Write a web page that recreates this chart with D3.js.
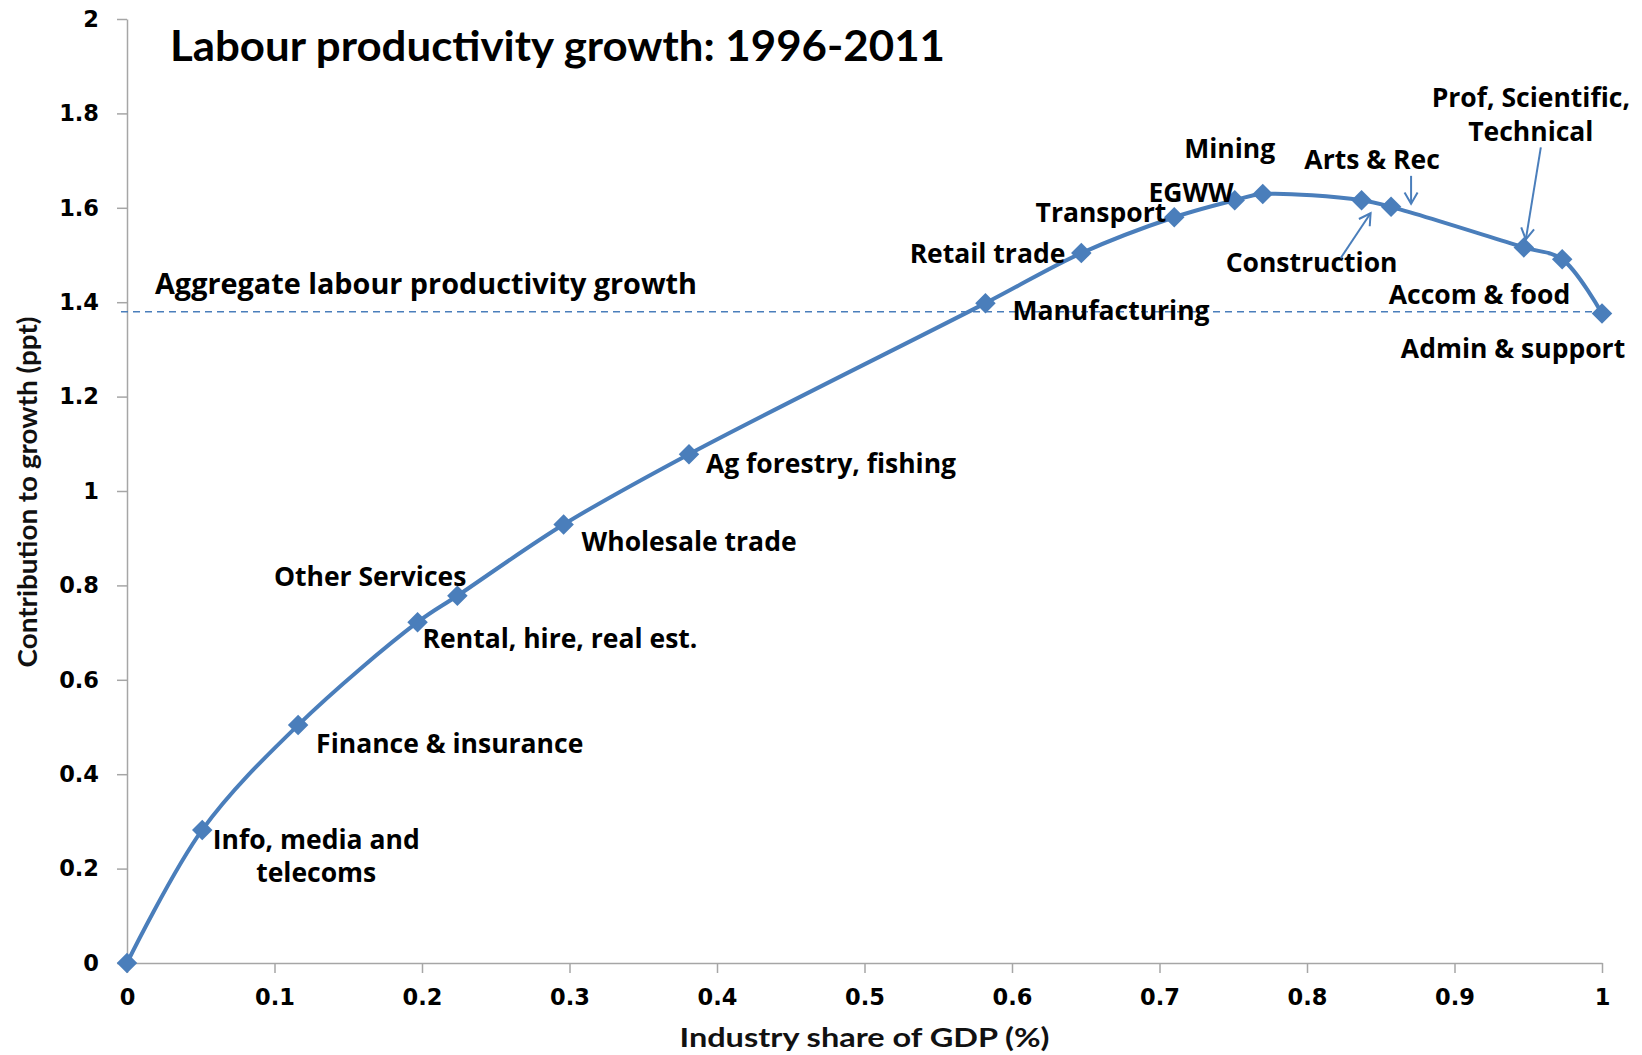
<!DOCTYPE html>
<html><head><meta charset="utf-8">
<script src="https://cdn.jsdelivr.net/npm/d3@7"></script>
<style>html,body{margin:0;padding:0;background:#fff;} svg{display:block}</style>
</head><body><svg id="chart" width="1642" height="1055"></svg>
<script>
// ---------- data ----------
const industries = ["", "Info, media and|telecoms", "Finance & insurance", "Rental, hire, real est.", "Other Services",
  "Wholesale trade", "Ag forestry, fishing", "Manufacturing", "Retail trade", "Transport", "EGWW", "Mining",
  "Construction", "Arts & Rec", "Prof, Scientific,|Technical", "Accom & food", "Admin & support"];
const share   = [0, 0.051, 0.116, 0.197, 0.224, 0.296, 0.381, 0.582, 0.647, 0.710, 0.751, 0.770, 0.837, 0.857, 0.947, 0.973, 1.0];
const contrib = [0, 0.282, 0.504, 0.722, 0.778, 0.929, 1.078, 1.398, 1.504, 1.580, 1.616, 1.629, 1.616, 1.602, 1.516, 1.491, 1.376];
const aggregateGrowth = 1.38;
const xTicks = [0, 0.1, 0.2, 0.3, 0.4, 0.5, 0.6, 0.7, 0.8, 0.9, 1];
const xTickLabels = ["0", "0.1", "0.2", "0.3", "0.4", "0.5", "0.6", "0.7", "0.8", "0.9", "1"];
const yTicks = [0, 0.2, 0.4, 0.6, 0.8, 1, 1.2, 1.4, 1.6, 1.8, 2];
const yTickLabels = ["0", "0.2", "0.4", "0.6", "0.8", "1", "1.2", "1.4", "1.6", "1.8", "2"];
const titleText = "Labour productivity growth: 1996-2011";
const xTitle = "Industry share of GDP (%)";
const yTitle = "Contribution to growth (ppt)";
const aggregateLabel = "Aggregate labour productivity growth";

// ---------- layout (label offsets in px, relative to each point) ----------
const labelLayout = [
  null,
  {dx: 114, dy: 9, anchor: "middle", lh: 33},
  {dx: 18, dy: 18, anchor: "start"},
  {dx: 5, dy: 16, anchor: "start"},
  {dx: 9, dy: -20, anchor: "end"},
  {dx: 18, dy: 16, anchor: "start"},
  {dx: 17, dy: 9, anchor: "start"},
  {dx: 27, dy: 7, anchor: "start"},
  {dx: -16, dy: 0, anchor: "end"},
  {dx: -8, dy: -5, anchor: "end"},
  {dx: -1, dy: -8, anchor: "end"},
  {dx: -33, dy: -46, anchor: "middle"},
  {dx: -50, dy: 62, anchor: "middle"},
  {dx: -19, dy: -48, anchor: "middle"},
  {dx: 7, dy: -150, anchor: "middle", lh: 34},
  {dx: 8, dy: 35, anchor: "end"},
  {dx: -89, dy: 34, anchor: "middle"}
];
// arrows: index of point, tail offset and tip offset (px)
const arrows = [
  {i: 12, tail: [-21, 58], tip: [9, 13]},
  {i: 13, tail: [20, -31], tip: [20, -3]},
  {i: 14, tail: [17, -100], tip: [2, -8]}
];

const blue = "#4a7ebb";
const axisGrey = "#a6a6a6";
const margin = {left: 127, right: 40, top: 19, bottom: 92};
const W = 1642, H = 1055;

const svg = d3.select("#chart");
const x = d3.scaleLinear().domain([0, 1]).range([margin.left, W - margin.right]);
const y = d3.scaleLinear().domain([0, 2]).range([H - margin.bottom, margin.top]);

// axes
const gy = svg.append("g").attr("transform", `translate(${x(0)},0)`)
  .call(d3.axisLeft(y).tickValues(yTicks).tickFormat((d, i) => yTickLabels[i]).tickSize(10).tickSizeOuter(0).tickPadding(18));
const gx = svg.append("g").attr("transform", `translate(0,${y(0)})`)
  .call(d3.axisBottom(x).tickValues(xTicks).tickFormat((d, i) => xTickLabels[i]).tickSize(10).tickSizeOuter(0).tickPadding(16));
[gx, gy].forEach(g => {
  g.selectAll("path.domain, line").attr("stroke", axisGrey).attr("stroke-width", 1.5);
  g.selectAll("text").attr("font-family", "DejaVu Sans").attr("font-weight", "bold")
    .attr("font-size", 22.5).attr("fill", "#000");
});

// aggregate dashed line
svg.append("line")
  .attr("x1", x(0) - 6).attr("x2", x(1))
  .attr("y1", y(aggregateGrowth)).attr("y2", y(aggregateGrowth))
  .attr("stroke", blue).attr("stroke-width", 1.5).attr("stroke-dasharray", "7,5");

// data line
const pts = share.map((s, i) => [s, contrib[i]]);
const line = d3.line().x(d => x(d[0])).y(d => y(d[1])).curve(d3.curveCatmullRom.alpha(0.5));
svg.append("path").datum(pts).attr("d", line)
  .attr("fill", "none").attr("stroke", blue).attr("stroke-width", 4);

// markers (diamonds)
const diamond = d3.symbol().type(d3.symbolSquare).size(210);
svg.append("g").selectAll("path").data(pts).join("path")
  .attr("d", diamond)
  .attr("transform", d => `translate(${x(d[0])},${y(d[1])}) rotate(45)`)
  .attr("fill", blue);

// labels
const lbl = svg.append("g").attr("font-family", "'Open Sans'").attr("font-weight", "bold")
  .attr("font-size", 26.5).attr("fill", "#000");
industries.forEach((name, i) => {
  const L = labelLayout[i];
  if (!L || !name) return;
  const px = x(share[i]) + L.dx, py = y(contrib[i]) + L.dy;
  const lines = name.split("|");
  const t = lbl.append("text").attr("text-anchor", L.anchor).attr("dominant-baseline", "central");
  lines.forEach((ln, k) => {
    t.append("tspan").attr("x", px).attr("y", py + k * (L.lh || 0)).text(ln);
  });
});

// arrows
arrows.forEach(a => {
  const bx = x(share[a.i]), by = y(contrib[a.i]);
  const x1 = bx + a.tail[0], y1 = by + a.tail[1], x2 = bx + a.tip[0], y2 = by + a.tip[1];
  const ang = Math.atan2(y2 - y1, x2 - x1);
  const len = 13, spread = Math.PI / 6;
  const g = svg.append("g").attr("stroke", blue).attr("stroke-width", 2).attr("fill", "none");
  g.append("line").attr("x1", x1).attr("y1", y1).attr("x2", x2).attr("y2", y2);
  g.append("path").attr("d",
    `M${x2 - len * Math.cos(ang - spread)},${y2 - len * Math.sin(ang - spread)} L${x2},${y2} L${x2 - len * Math.cos(ang + spread)},${y2 - len * Math.sin(ang + spread)}`);
});

// aggregate label
svg.append("text").attr("x", x(0) + 28).attr("y", y(aggregateGrowth) - 29)
  .attr("dominant-baseline", "central")
  .attr("font-family", "'Open Sans'").attr("font-weight", "bold").attr("font-size", 28.8).attr("fill", "#000")
  .text(aggregateLabel);

// title
svg.append("text").attr("x", 170).attr("y", 61)
  .attr("font-family", "Lato").attr("font-weight", "bold").attr("font-size", 42).attr("fill", "#000")
  .attr("textLength", 775).attr("lengthAdjust", "spacingAndGlyphs")
  .text(titleText);

// axis titles
svg.append("text").attr("x", (x(0) + x(1)) / 2).attr("y", 1047).attr("text-anchor", "middle")
  .attr("font-family", "Lato").attr("font-weight", "bold").attr("font-size", 26).attr("fill", "#111")
  .attr("textLength", 370).attr("lengthAdjust", "spacingAndGlyphs")
  .text(xTitle);
svg.append("text").attr("transform", `translate(37,492) rotate(-90)`).attr("text-anchor", "middle")
  .attr("font-family", "Lato").attr("font-weight", "bold").attr("font-size", 26).attr("fill", "#111")
  .attr("textLength", 351).attr("lengthAdjust", "spacingAndGlyphs")
  .text(yTitle);
</script></body></html>
